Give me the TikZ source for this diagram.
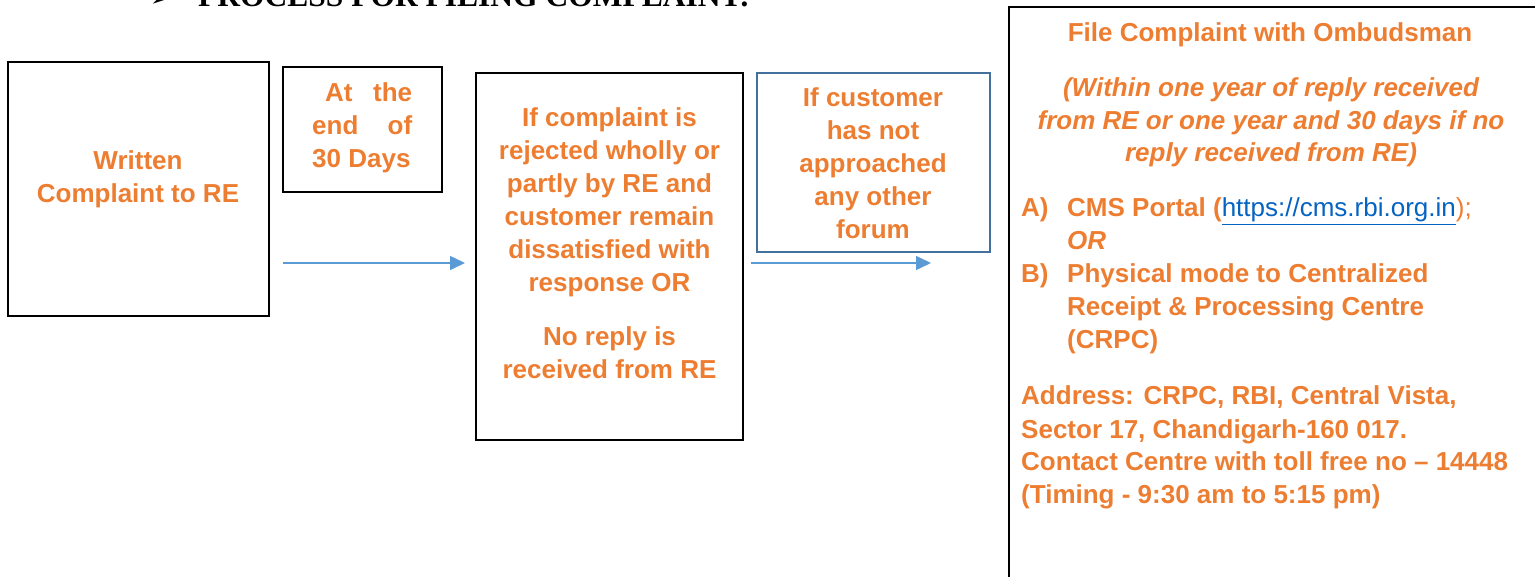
\documentclass[tikz,border=0pt]{standalone}
\usepackage{fontspec}
\setmainfont{Liberation Sans}
\newfontfamily\headserif{Liberation Serif}
\newfontfamily\dejavu{DejaVu Sans}
\usetikzlibrary{arrows.meta}
\definecolor{txtorange}{HTML}{ED7D31}
\definecolor{arrowblue}{HTML}{5B9BD5}
\definecolor{boxblue}{HTML}{41719C}
\definecolor{linkblue}{HTML}{0563C1}
\tikzset{
  blackbox/.style={draw=black, line width=2.2pt, inner sep=0pt, rectangle},
  bluebox/.style={draw=boxblue, line width=2.2pt, inner sep=0pt, rectangle},
  bigbox/.style={draw=black, line width=2.8pt, inner sep=0pt, rectangle},
  otext/.style={text=txtorange, inner sep=0pt, font=\fontsize{26}{33}\selectfont\bfseries},
  flowarrow/.style={draw=arrowblue, line width=1.5pt, -{Triangle[length=15pt,width=14pt]}},
}
\begin{document}
\begin{tikzpicture}[x=1pt, y=-1pt]
\useasboundingbox (0,0) rectangle (1535,577);
\clip (0,0) rectangle (1535,577);

% heading (cut off at top)
\node[anchor=base west, inner sep=0pt, font=\fontsize{24}{24}\selectfont\dejavu\bfseries] (headarrow) at (150,7) {➢};
\node[anchor=base west, inner sep=0pt, font=\fontsize{31.5}{31.5}\selectfont\headserif\bfseries] (head) at (198,6.5) {PROCESS FOR FILING COMPLAINT:};

% boxes
\node[blackbox, minimum width=261pt, minimum height=254pt] (b1) at (138.5,189) {};
\node[blackbox, minimum width=159pt, minimum height=125pt] (b2) at (362.5,129.5) {};
\node[blackbox, minimum width=267pt, minimum height=367pt] (b3) at (609.5,256.5) {};
\node[bluebox, minimum width=233pt, minimum height=179pt] (b4) at (873.5,162.5) {};
\node[bigbox, minimum width=551pt, minimum height=593pt] (b5) at (1284.5,303.5) {};

% texts
\node[otext, anchor=base] (t1) at (138,170) {\parbox[t]{250pt}{\centering Written\\Complaint to RE}};
\node[otext, anchor=base west] (t2) at (312,102) {\parbox[t]{100pt}{\hspace*{13pt}At\hfill the\\end\hfill of\\30 Days}};
\node[otext, anchor=base] (t3) at (609.5,127) {\parbox[t]{260pt}{\centering If complaint is\\rejected wholly or\\partly by RE and\\customer remain\\dissatisfied with\\response OR\\[21pt]No reply is\\received from RE}};
\node[otext, anchor=base] (t4) at (873,107) {\parbox[t]{225pt}{\centering If customer\\has not\\approached\\any other\\forum}};

\node[otext, anchor=base] (t5a) at (1270,42) {File Complaint with Ombudsman};
\node[otext, anchor=base, font=\fontsize{26}{32.5}\selectfont\bfseries\itshape] (t5b) at (1271,97) {\parbox[t]{520pt}{\centering (Within one year of reply received\\from RE or one year and 30 days if no\\reply received from RE)}};
\node[otext, anchor=base west] (t5c) at (1021,217) {\parbox[t]{510pt}{\raggedright
\makebox[46pt][l]{A)}CMS Portal (\textcolor{linkblue}{\mdseries\underline{https://cms.rbi.org.in}}{\mdseries);}\\
\hspace*{46pt}\textit{OR}\\
\makebox[46pt][l]{B)}Physical mode to Centralized\\
\hspace*{46pt}Receipt \& Processing Centre\\
\hspace*{46pt}(CRPC)}};
\node[otext, anchor=base west] (t5d) at (1021,405) {\parbox[t]{510pt}{\raggedright
Address: CRPC, RBI, Central Vista,\\
Sector 17, Chandigarh-160 017.\\
Contact Centre with toll free no – 14448\\
(Timing - 9:30 am to 5:15 pm)}};

% connectors
\coordinate (a1s) at (283,263);
\coordinate (a1e) at (465,263);
\coordinate (a2s) at (751,263);
\coordinate (a2e) at (931,263);
\draw[flowarrow] (a1s) -- (a1e);
\draw[flowarrow] (a2s) -- (a2e);
\end{tikzpicture}
\end{document}
